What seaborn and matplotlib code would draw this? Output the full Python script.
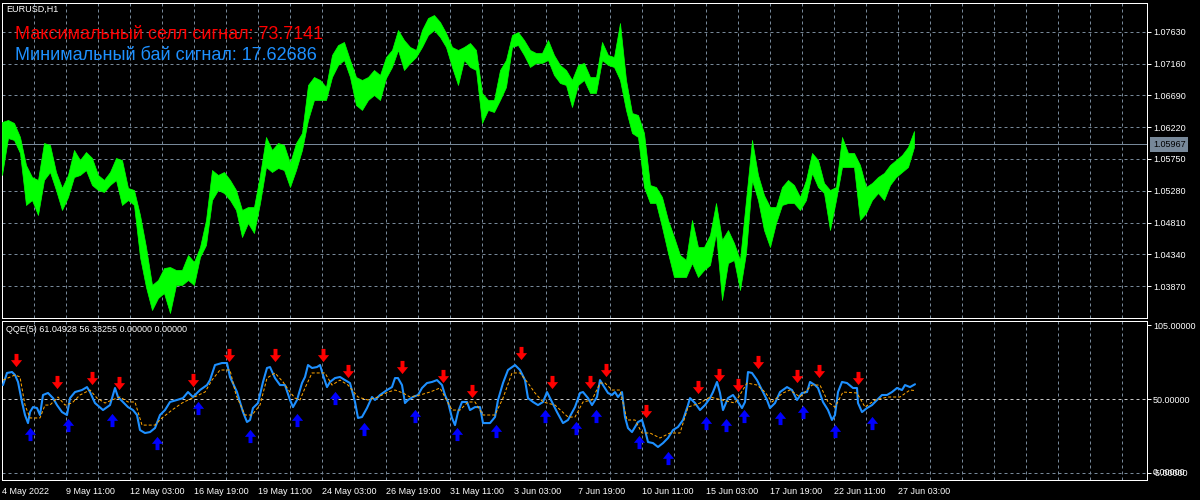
import numpy as np
import matplotlib
matplotlib.use("Agg")
import matplotlib.pyplot as plt
import matplotlib.transforms as mtransforms
from matplotlib.path import Path
from matplotlib.markers import MarkerStyle
import seaborn as sns

# ---------------- data ----------------
symbol_title = "EURUSD,H1"
sell_text = "Максимальный селл сигнал: 73.7141"
buy_text = "Минимальный бай сигнал: 17.62686"
qqe_title = "QQE(5) 61.04928 56.33255 0.00000 0.00000"
last_price = 1.05967

first_bar = 2          # bar number of the first sample
price_step = 6         # hours between price samples
price_high = [
    1.06296, 1.06326, 1.06282, 1.06075, 1.05661, 1.05484, 1.05440, 1.05986, 1.05957, 1.05558,
    1.05322, 1.05514, 1.05883, 1.05735, 1.05853, 1.05765, 1.05514, 1.05440, 1.05558, 1.05765,
    1.05735, 1.05322, 1.05292, 1.04923, 1.04450, 1.03889, 1.03963, 1.04140, 1.04155, 1.04111,
    1.04111, 1.04332, 1.04229, 1.04450, 1.04849, 1.05587, 1.05514, 1.05558, 1.05440, 1.05292,
    1.04997, 1.05041, 1.05041, 1.05514, 1.06075, 1.05883, 1.05986, 1.05957, 1.05691, 1.05986,
    1.06134, 1.06843, 1.06961, 1.06917, 1.06813, 1.07286, 1.07433, 1.07478, 1.07212, 1.06961,
    1.06917, 1.06961, 1.07064, 1.06990, 1.07256, 1.07360, 1.07655, 1.07507, 1.07404, 1.07360,
    1.07655, 1.07832, 1.07876, 1.07773, 1.07611, 1.07404, 1.07360, 1.07404, 1.07463, 1.07360,
    1.06725, 1.06621, 1.06621, 1.07064, 1.07212, 1.07581, 1.07625, 1.07507, 1.07360, 1.07315,
    1.07315, 1.07507, 1.07286, 1.07138, 1.07064, 1.06917, 1.07138, 1.07168, 1.06961, 1.06961,
    1.07478, 1.07286, 1.07256, 1.07758, 1.06917, 1.06429, 1.06400, 1.06134, 1.05366, 1.05336,
    1.05189, 1.04849, 1.04598, 1.04332, 1.04258, 1.04849, 1.04450, 1.04450, 1.04628, 1.05100,
    1.04554, 1.04701, 1.04509, 1.04258, 1.05144, 1.06031, 1.05514, 1.05218, 1.05041, 1.05041,
    1.05336, 1.05440, 1.05366, 1.05189, 1.05440, 1.05839, 1.05735, 1.05396, 1.05292, 1.05336,
    1.06075, 1.05839, 1.05839, 1.05661, 1.05336, 1.05396, 1.05484, 1.05543, 1.05661, 1.05735,
    1.05809, 1.05927, 1.06163,
]
price_low = [
    1.05514, 1.06060, 1.06031, 1.05839, 1.05071, 1.05144, 1.04923, 1.05440, 1.05558, 1.05292,
    1.04997, 1.05189, 1.05484, 1.05514, 1.05587, 1.05366, 1.05292, 1.05263, 1.05366, 1.05440,
    1.05071, 1.05144, 1.05071, 1.04303, 1.03860, 1.03520, 1.03697, 1.03771, 1.03476, 1.03889,
    1.03889, 1.03963, 1.03889, 1.04303, 1.04480, 1.05144, 1.05292, 1.05248, 1.05144, 1.04997,
    1.04598, 1.04805, 1.04657, 1.05100, 1.05632, 1.05558, 1.05617, 1.05587, 1.05336, 1.05587,
    1.05883, 1.06326, 1.06621, 1.06621, 1.06621, 1.06961, 1.07138, 1.07212, 1.06961, 1.06547,
    1.06474, 1.06621, 1.06695, 1.06621, 1.06946, 1.07109, 1.07360, 1.07064, 1.07168, 1.07256,
    1.07404, 1.07581, 1.07655, 1.07552, 1.07404, 1.07109, 1.06843, 1.07212, 1.07109, 1.07064,
    1.06282, 1.06474, 1.06444, 1.06621, 1.06813, 1.07404, 1.07433, 1.07286, 1.07109, 1.07168,
    1.07168, 1.07212, 1.06990, 1.06872, 1.06843, 1.06518, 1.06843, 1.06917, 1.06725, 1.06725,
    1.07212, 1.07138, 1.07109, 1.06917, 1.06474, 1.06134, 1.06075, 1.05336, 1.05100, 1.05100,
    1.04746, 1.04362, 1.04007, 1.04007, 1.04007, 1.04214, 1.04007, 1.04111, 1.04185, 1.04657,
    1.03668, 1.04214, 1.04258, 1.03815, 1.04362, 1.05440, 1.05144, 1.04701, 1.04450, 1.04805,
    1.05071, 1.05100, 1.05100, 1.04997, 1.05144, 1.05543, 1.05336, 1.05248, 1.04701, 1.05144,
    1.05632, 1.05632, 1.05632, 1.04849, 1.04952, 1.05144, 1.05248, 1.05144, 1.05366, 1.05484,
    1.05558, 1.05632, 1.05927,
]

price_ticks = [1.07630, 1.07160, 1.06690, 1.06220, 1.05750, 1.05280, 1.04810, 1.04340, 1.03870]
date_labels = ["4 May 2022", "9 May 11:00", "12 May 03:00", "16 May 19:00", "19 May 11:00",
               "24 May 03:00", "26 May 19:00", "31 May 11:00", "3 Jun 03:00", "7 Jun 19:00",
               "10 Jun 11:00", "15 Jun 03:00", "17 Jun 19:00", "22 Jun 11:00", "27 Jun 03:00"]
hours_per_label = 64
hours_per_grid = 32
qqe_ticks = [105, 50, -5]
qqe_tick_labels = ["105.00000", "50.00000", "-5.00000"]
qqe_level = 50

rsi_bar = [3, 7, 12, 15, 18, 22, 25, 28, 30, 33, 37, 40, 43, 48, 53, 57, 62, 67, 70, 75,
           82, 87, 90, 95, 103, 110, 115, 118, 123, 128, 133, 137, 140, 145, 150, 155, 160, 165, 170, 177,
           183, 188, 193, 200, 207, 210, 215, 222, 227, 230, 237, 243, 247, 250, 253, 258, 263, 267, 270, 275,
           280, 285, 290, 293, 297, 302, 305, 308, 312, 317, 320, 323, 327, 330, 335, 340, 345, 350, 355, 358,
           362, 367, 372, 375, 380, 387, 392, 395, 398, 402, 405, 408, 413, 418, 422, 427, 432, 437, 442, 445,
           448, 452, 455, 458, 462, 467, 470, 475, 480, 483, 490, 495, 498, 503, 508, 515, 520, 525, 528, 533,
           538, 543, 547, 552, 557, 563, 568, 575, 580, 583, 588, 592, 597, 600, 603, 608, 612, 615, 618, 622,
           625, 628, 632, 635, 638, 642, 645, 648, 653, 658, 663, 668, 673, 678, 683, 688, 690, 695, 700, 705,
           710, 713, 717, 720, 723, 728, 733, 738, 742, 745, 748, 752, 757, 762, 767, 770, 775, 780, 787, 792,
           797, 802, 807, 810, 815, 818, 823, 828, 832, 835, 838, 842, 847, 853, 857, 858, 862, 867, 872, 877,
           882, 887, 892, 897, 902, 905, 910, 915]
rsi_value = [60.4, 69.4, 70.1, 67.9, 62.7, 47.8, 38.1, 32.1, 40.3, 44.0, 43.3, 38.1, 53.0, 54.5, 50.7, 45.5, 40.3, 38.1, 50.7, 55.2,
             56.7, 58.9, 55.2, 47.0, 41.8, 45.5, 58.2, 51.5, 47.8, 44.0, 41.8, 38.1, 26.9, 24.7, 25.4, 28.4, 38.1, 41.8, 47.8, 49.3,
             50.7, 55.2, 51.5, 56.7, 60.4, 64.1, 75.3, 76.8, 76.8, 66.4, 55.2, 40.3, 32.9, 34.4, 43.3, 47.0, 62.7, 73.1, 73.8, 65.6,
             60.4, 60.4, 49.3, 44.0, 49.3, 61.9, 66.4, 75.3, 73.1, 73.8, 75.3, 67.9, 58.9, 62.7, 65.6, 66.4, 64.1, 61.9, 47.8, 35.9,
             36.6, 43.3, 51.5, 49.3, 53.0, 56.7, 58.9, 65.6, 65.6, 60.4, 47.0, 49.3, 51.5, 53.0, 58.2, 61.9, 62.7, 64.1, 60.4, 53.0,
             47.8, 35.9, 30.6, 40.3, 47.8, 47.8, 41.8, 44.0, 44.0, 32.1, 32.1, 36.6, 49.3, 61.9, 71.6, 75.3, 71.6, 64.1, 50.7, 47.8,
             45.5, 47.8, 55.2, 47.8, 40.3, 32.1, 34.4, 44.0, 54.5, 55.2, 50.7, 45.5, 51.5, 64.1, 60.4, 54.5, 53.0, 55.2, 51.5, 55.2,
             36.6, 28.4, 25.4, 29.2, 32.9, 34.4, 26.9, 18.0, 17.2, 14.3, 17.2, 21.0, 26.9, 29.2, 34.4, 45.5, 50.7, 47.0, 41.8, 45.5,
             50.7, 55.2, 62.7, 54.5, 41.8, 50.7, 53.0, 47.8, 43.3, 47.8, 70.1, 69.4, 64.1, 56.7, 49.3, 43.3, 47.0, 55.2, 58.9, 56.7,
             49.3, 54.5, 55.2, 62.7, 60.4, 58.2, 47.8, 41.8, 34.4, 38.1, 55.2, 62.7, 61.9, 58.2, 58.2, 47.0, 40.3, 43.3, 45.5, 49.3,
             53.0, 53.0, 55.2, 58.2, 56.7, 60.4, 58.9, 61.0]

trail_bar = [3, 15, 20, 25, 30, 40, 45, 50, 58, 65, 72, 80, 90, 97, 105, 112, 120, 128, 135, 142,
             155, 162, 172, 182, 192, 205, 212, 220, 230, 236, 245, 252, 260, 267, 275, 283, 290, 295, 300, 305,
             312, 325, 332, 340, 348, 358, 368, 378, 388, 395, 403, 410, 420, 430, 440, 452, 460, 468, 475, 483,
             495, 503, 512, 520, 528, 535, 543, 555, 568, 575, 583, 592, 600, 605, 612, 620, 627, 635, 642, 650,
             660, 670, 680, 688, 700, 710, 722, 735, 747, 757, 765, 772, 783, 790, 800, 812, 820, 828, 835, 843,
             857, 865, 875, 888, 900, 910, 915]
trail_value = [64.1, 67.9, 66.4, 45.5, 35.9, 35.9, 45.5, 45.5, 51.5, 45.5, 47.0, 53.0, 56.7, 50.7, 47.0, 49.3, 51.5, 47.8, 47.8, 30.6,
               30.6, 35.9, 41.8, 47.0, 50.7, 55.2, 64.1, 71.6, 71.6, 53.0, 38.1, 38.1, 45.5, 65.6, 69.4, 62.7, 55.2, 50.7, 49.3, 58.2,
               69.4, 69.4, 60.4, 64.1, 60.4, 51.5, 49.3, 51.5, 55.2, 56.7, 54.5, 51.5, 53.0, 55.2, 58.2, 41.8, 41.8, 47.8, 47.8, 38.1,
               38.1, 50.7, 69.4, 69.4, 61.9, 54.5, 47.8, 45.5, 36.6, 36.6, 47.8, 49.3, 61.9, 61.9, 56.7, 56.7, 34.4, 34.4, 24.7, 24.7,
               21.0, 24.7, 24.7, 44.0, 47.0, 51.5, 49.3, 47.0, 61.9, 60.4, 55.2, 47.8, 54.5, 56.7, 51.5, 60.4, 60.4, 47.8, 44.0, 55.2,
               54.5, 44.0, 49.3, 51.5, 51.5, 56.7, 56.3]

sell_bar = [16, 57, 92, 119, 193, 229, 275, 323, 348, 402, 443, 472, 521, 552, 590, 606, 646, 698, 719, 738, 758, 797, 819, 858]
sell_value = [79.0, 62.7, 66.0, 61.9, 64.1, 82.8, 82.8, 82.4, 71.2, 74.2, 66.8, 56.3, 83.9, 63.0, 62.7, 71.6, 41.4, 58.6, 68.2, 60.1,
              77.2, 67.5, 70.5, 66.0]
buy_bar = [30, 68, 112, 157, 198, 250, 297, 335, 364, 415, 457, 496, 545, 576, 596, 639, 668, 706, 726, 744, 780, 803, 835, 872]
buy_value = [23.9, 31.0, 34.7, 17.6, 43.3, 22.8, 34.7, 50.4, 28.0, 37.0, 24.3, 26.5, 37.0, 28.8, 37.7, 18.0, 6.4, 32.5, 31.0, 37.0,
             36.2, 40.7, 26.5, 31.8]

# ---------------- style ----------------
sns.set_style("dark", {"axes.facecolor": "black", "figure.facecolor": "black"})
plt.rcParams["font.family"] = ["Liberation Sans", "DejaVu Sans"]

W, H = 1200, 500
fig = plt.figure(figsize=(12, 5), dpi=100, facecolor="black")


def px_axes(l, t, r, b):
    return fig.add_axes([l / W, 1 - b / H, (r - l) / W, (b - t) / H])


ax1 = px_axes(2, 2.5, 1147, 318)
ax2 = px_axes(2, 320.7, 1147, 479.5)

GRID = "#778899"
PX = 0.72
xmin, xmax = first_bar, 1147

major_x = [first_bar + hours_per_label * k for k in range(len(date_labels))]
all_grid = [first_bar + hours_per_grid * k for k in range(1, 36)]
minor_x = [g for g in all_grid if g not in major_x]

for ax in (ax1, ax2):
    ax.set_facecolor("black")
    ax.set_xlim(xmin, xmax)
    for s in ax.spines.values():
        s.set_color("white")
        s.set_linewidth(PX)
        s.set_visible(True)
    ax.set_xticks(major_x)
    ax.set_xticks(minor_x, minor=True)
    ax.grid(True, axis="x", which="both", color=GRID, lw=PX, ls=(0, (3, 3)))
    ax.set_axisbelow(True)
    ax.yaxis.tick_right()
    ax.tick_params(axis="y", which="both", right=True, left=False, labelright=True, labelleft=False,
                   colors="white", length=2.9, width=PX, pad=1.4, labelsize=6.5)
    ax.tick_params(axis="x", which="minor", length=0)

# ---- main price panel ----
bars = np.arange(len(price_high)) * price_step + first_bar
ax1.fill_between(bars, price_low, price_high, color="#00ff00", lw=0.5, edgecolor="#00ff00", zorder=3)
ax1.set_ylim(1.03402, 1.08061)
ax1.set_yticks(price_ticks)
ax1.set_yticklabels([f"{v:.5f}" for v in price_ticks])
ax1.grid(True, axis="y", which="major", color=GRID, lw=PX, ls=(0, (3, 3)))
ax1.tick_params(axis="x", which="major", length=0, labelbottom=False)
ax1.axhline(last_price, color=GRID, lw=PX, zorder=2)
trans = mtransforms.blended_transform_factory(ax1.transAxes, ax1.transData)
ax1.text(1 + 6 / 1145, last_price, f"{last_price:.5f}", transform=trans, ha="left", va="center",
         fontsize=6.5, color="black", clip_on=False,
         bbox=dict(boxstyle="square,pad=0.3", facecolor=GRID, edgecolor="none"))

# ---- QQE panel ----
ax2.set_ylim(-9.9, 108.3)
ax2.set_yticks(qqe_ticks)
ax2.set_yticklabels(qqe_tick_labels)
ax2.axhline(qqe_ticks[-1], color=GRID, lw=PX, ls=(0, (3, 3)), zorder=1)
ax2.axhline(qqe_level, color="#c8c8c8", lw=PX, ls=(0, (3, 3)), zorder=1)
ax2.tick_params(axis="x", which="major", colors="white", length=3.6, width=PX, pad=1.5, labelsize=6.5)
ax2.set_xticklabels(date_labels)
for lab in ax2.get_xticklabels():
    lab.set_ha("left")

sns.lineplot(x=rsi_bar, y=rsi_value, ax=ax2, color="#1e90ff", lw=1.5, estimator=None, zorder=3)
sns.lineplot(x=trail_bar, y=trail_value, ax=ax2, color="#ffa500", lw=PX, estimator=None,
             linestyle=(0, (3, 2)), zorder=4)

down_v = [(-0.3, 1.0), (0.3, 1.0), (0.3, 0.05), (0.85, 0.05), (0.0, -1.0), (-0.85, 0.05), (-0.3, 0.05), (-0.3, 1.0)]
codes = [Path.MOVETO] + [Path.LINETO] * 6 + [Path.CLOSEPOLY]
down_m = MarkerStyle(Path(down_v, codes))
up_m = MarkerStyle(Path([(x, -y) for x, y in down_v], codes))
sns.scatterplot(x=sell_bar, y=sell_value, ax=ax2, marker=down_m, s=90, color="#ff0000", linewidth=0, zorder=5)
sns.scatterplot(x=buy_bar, y=buy_value, ax=ax2, marker=up_m, s=90, color="#0000ff", linewidth=0, zorder=5)
ax2.set_xlabel("")
ax2.set_ylabel("")
ax1.set_xlabel("")
ax1.set_ylabel("")

# second label at the bottom level (overlapping, as in the terminal)
trans2 = mtransforms.blended_transform_factory(ax2.transAxes, ax2.transData)
ax2.text(1 + 6 / 1145, qqe_ticks[-1], "0.00000", transform=trans2, ha="left", va="center",
         fontsize=6.5, color="white", clip_on=False)

# ---- texts ----
fig.text(6.5 / W, 1 - 9.7 / H, symbol_title, color="white", fontsize=6.5, va="center", ha="left")
fig.text(15 / W, 1 - 34 / H, sell_text, color="#ff0000", fontsize=13, va="center", ha="left")
fig.text(15 / W, 1 - 56 / H, buy_text, color="#1e90ff", fontsize=13, va="center", ha="left")
fig.text(6 / W, 1 - 329.5 / H, qqe_title, color="white", fontsize=6.5, va="center", ha="left")

fig.savefig("out.png", dpi=100, facecolor="black")
